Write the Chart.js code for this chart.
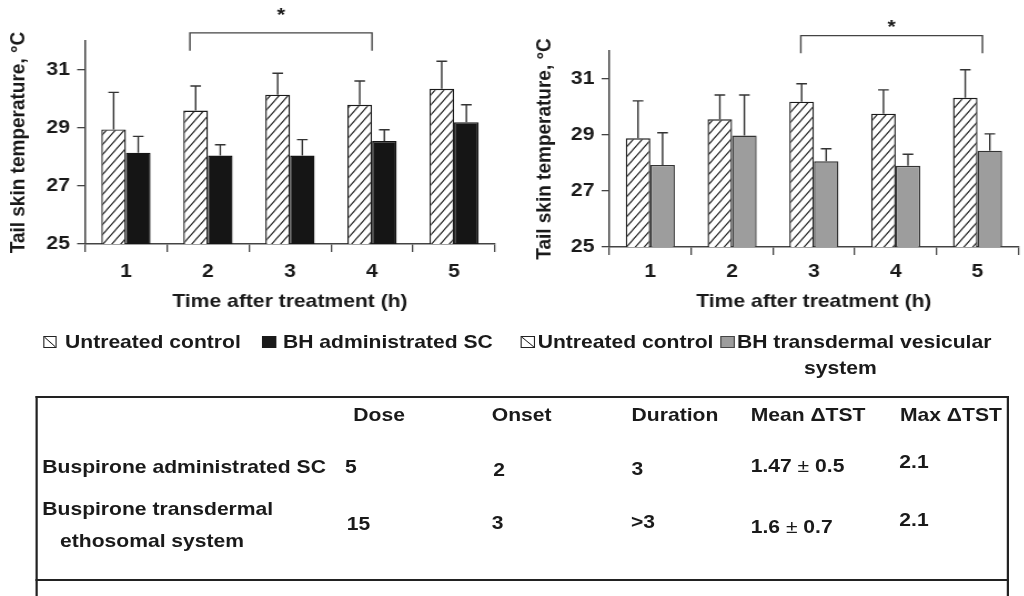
<!DOCTYPE html>
<html>
<head>
<meta charset="utf-8">
<script src="https://cdn.jsdelivr.net/npm/chart.js@4.4.1/dist/chart.umd.min.js"></script>
<style>
  html, body { margin: 0; padding: 0; background: #fff; overflow: hidden; }
  /* the whole figure is laid out narrow and widened by 1.11 */
  #page {
    position: relative; width: 923px; height: 596px; overflow: hidden;
    transform: scaleX(1.11); transform-origin: 0 0;
    font-family: Arial, "Liberation Sans", Helvetica, sans-serif;
    font-weight: bold; font-size: 19px; color: #1a1a1a;
  }
  canvas { position: absolute; top: 0; }
  #chartSC { left: 0; }
  #chartTD { left: 450px; }
  .txt { position: absolute; line-height: 22px; white-space: nowrap; }
  .pm { font-weight: normal; }
  .sw { position: absolute; width: 12.6px; height: 12.6px; box-sizing: border-box; }
  .sw.hatch {
    border: 1.4px solid #222;
    background: linear-gradient(to top right, #fff calc(50% - 0.8px), #222 50%, #fff calc(50% + 0.8px));
  }
  .sw.black { background: #1a1a1a; }
  .sw.grey { background: #9d9d9d; border: 1.4px solid #444; }
  #table {
    position: absolute; left: 31.5px; top: 396px; width: 877.5px; height: 260px;
    border: 2px solid #222; border-bottom: none; box-sizing: border-box;
  }
  #tableLine { position: absolute; left: 31.5px; top: 579px; width: 877.5px; border-top: 2px solid #222; }
</style>
</head>
<body>
<div id="page">
  <canvas id="chartSC" width="450" height="320"></canvas>
  <canvas id="chartTD" width="472" height="320"></canvas>

  <!-- legends -->
  <div class="sw hatch" style="left:38.7px; top:335.7px"></div>
  <div class="txt" style="left:58.6px; top:331px">Untreated control</div>
  <div class="sw black" style="left:236px; top:335.7px"></div>
  <div class="txt" style="left:255px; top:331px">BH administrated SC</div>

  <div class="sw hatch" style="left:469.4px; top:335.7px"></div>
  <div class="txt" style="left:484.4px; top:331px">Untreated control</div>
  <div class="sw grey" style="left:649.3px; top:335.7px"></div>
  <div class="txt" style="left:664px; top:331px">BH transdermal vesicular</div>
  <div class="txt" style="left:724.3px; top:356.5px">system</div>

  <!-- summary table -->
  <div id="table"></div>
  <div id="tableLine"></div>
  <div class="txt" style="left:318.3px; top:404px">Dose</div>
  <div class="txt" style="left:443px; top:404px">Onset</div>
  <div class="txt" style="left:569px; top:404px">Duration</div>
  <div class="txt" style="left:676.3px; top:404px">Mean ΔTST</div>
  <div class="txt" style="left:810.8px; top:404px">Max ΔTST</div>

  <div class="txt" style="left:38.1px; top:456px">Buspirone administrated SC</div>
  <div class="txt" style="left:310.8px; top:456px">5</div>
  <div class="txt" style="left:444.4px; top:458.7px">2</div>
  <div class="txt" style="left:569px; top:458px">3</div>
  <div class="txt" style="left:676.3px; top:455px">1.47 <span class="pm">±</span> 0.5</div>
  <div class="txt" style="left:810.2px; top:451px">2.1</div>

  <div class="txt" style="left:38.1px; top:498px">Buspirone transdermal</div>
  <div class="txt" style="left:54.1px; top:529.5px">ethosomal system</div>
  <div class="txt" style="left:312.3px; top:513px">15</div>
  <div class="txt" style="left:443px; top:511.5px">3</div>
  <div class="txt" style="left:568.5px; top:511px">&gt;3</div>
  <div class="txt" style="left:676.3px; top:516px">1.6 <span class="pm">±</span> 0.7</div>
  <div class="txt" style="left:810.2px; top:509px">2.1</div>
</div>

<script>
const hours = ['1', '2', '3', '4', '5'];
const yTicks = [25, 27, 29, 31];

// left panel: untreated control vs BH given SC (mean, SD)
const controlSC = [28.95, 29.6, 30.15, 29.8, 30.35];
const controlSCErr = [1.28, 0.85, 0.74, 0.82, 0.95];
const bhSC = [28.15, 28.05, 28.05, 28.55, 29.2];
const bhSCErr = [0.56, 0.37, 0.55, 0.39, 0.6];

// right panel: untreated control vs BH transdermal vesicular system
const controlTD = [28.88, 29.56, 30.19, 29.76, 30.33];
const controlTDErr = [1.34, 0.87, 0.64, 0.85, 1.0];
const bhTD = [27.93, 28.98, 28.06, 27.9, 28.44];
const bhTDErr = [1.15, 1.45, 0.45, 0.41, 0.6];

const FONT = { family: "Arial, 'Liberation Sans', Helvetica, sans-serif", size: 19, weight: 'bold' };
const INK = '#1a1a1a';
const AXIS = '#444';

Chart.defaults.font = FONT;
Chart.defaults.color = INK;

function makeHatch(ctx) {
    const tile = document.createElement('canvas');
    tile.width = 8;
    tile.height = 10;
    const g = tile.getContext('2d');
    g.fillStyle = '#fff';
    g.fillRect(0, 0, 8, 10);
    g.strokeStyle = '#222';
    g.lineWidth = 1.1;
    g.beginPath();
    g.moveTo(-1, 11.25); g.lineTo(9, -1.25);
    g.moveTo(-1, 1.25); g.lineTo(1, -1.25);
    g.moveTo(7, 11.25); g.lineTo(9, 8.75);
    g.stroke();
    return ctx.createPattern(tile, 'repeat');
}

// upper error bar with a short cap
const errorBars = {
    id: 'errorBars',
    afterDatasetsDraw(chart) {
        const { ctx } = chart;
        const y = chart.scales.y;
        chart.data.datasets.forEach((ds, i) => {
            chart.getDatasetMeta(i).data.forEach((bar, j) => {
                const top = y.getPixelForValue(ds.data[j] + ds.errors[j]);
                ctx.save();
                ctx.strokeStyle = '#333';
                ctx.lineWidth = 1.4;
                ctx.beginPath();
                ctx.moveTo(bar.x, bar.y);
                ctx.lineTo(bar.x, top);
                ctx.moveTo(bar.x - 4.8, top);
                ctx.lineTo(bar.x + 4.8, top);
                ctx.stroke();
                ctx.restore();
            });
        });
    }
};

// significance bracket with a star above it
const bracket = {
    id: 'bracket',
    afterDraw(chart, args, opts) {
        const { ctx } = chart;
        const { x, y } = chart.scales;
        const x1 = x.getPixelForValue(opts.from);
        const x2 = x.getPixelForValue(opts.to);
        const yTop = y.getPixelForValue(opts.top);
        const yLeg = y.getPixelForValue(opts.leg);
        ctx.save();
        ctx.strokeStyle = AXIS;
        ctx.lineWidth = 1.4;
        ctx.beginPath();
        ctx.moveTo(x1, yLeg);
        ctx.lineTo(x1, yTop);
        ctx.lineTo(x2, yTop);
        ctx.lineTo(x2, yLeg);
        ctx.stroke();
        ctx.fillStyle = INK;
        ctx.font = `bold 19px ${FONT.family}`;
        ctx.textAlign = 'center';
        ctx.textBaseline = 'alphabetic';
        ctx.fillText(opts.label, (x1 + x2) / 2, y.getPixelForValue(opts.labelAt) + 11);
        ctx.restore();
    }
};

function drawPanel(canvasId, controlData, controlErr, treatedData, treatedErr, treatedColor, treatedBorder, lay) {
    const ctx = document.getElementById(canvasId).getContext('2d');
    return new Chart(ctx, {
        type: 'bar',
        data: {
            labels: hours,
            datasets: [{
                label: 'Untreated control',
                data: controlData,
                errors: controlErr,
                backgroundColor: makeHatch(ctx),
                borderColor: '#1a1a1a',
                borderWidth: 1.4
            }, {
                label: lay.treatedLabel,
                data: treatedData,
                errors: treatedErr,
                backgroundColor: treatedColor,
                borderColor: treatedBorder,
                borderWidth: 1.4
            }]
        },
        options: {
            responsive: false,
            animation: false,
            devicePixelRatio: 1,
            categoryPercentage: 0.6,
            barPercentage: 1.0,
            layout: { padding: lay.padding },
            plugins: {
                legend: { display: false },
                tooltip: { enabled: false },
                bracket: lay.bracket
            },
            scales: {
                x: {
                    grid: { display: true, drawOnChartArea: false, offset: true, tickLength: 8, color: AXIS, lineWidth: 1.3 },
                    border: { display: true, color: AXIS, width: 1.5 },
                    ticks: { padding: lay.xTickPad, maxRotation: 0 },
                    title: { display: true, text: 'Time after treatment (h)', padding: { top: 0, bottom: 6.6 } },
                    afterFit: (scale) => { scale.height = lay.xHeight; }
                },
                y: {
                    min: 25,
                    max: 32,
                    grid: { display: true, drawOnChartArea: false, tickLength: 7, color: AXIS, lineWidth: 1.3 },
                    border: { display: true, color: AXIS, width: 1.5 },
                    ticks: { padding: 6.5 },
                    afterBuildTicks: (scale) => { scale.ticks = yTicks.map(v => ({ value: v })); },
                    title: { display: true, text: 'Tail skin temperature, °C', padding: { top: 5, bottom: 0 } },
                    afterFit: (scale) => { scale.width = lay.yWidth; }
                }
            }
        },
        plugins: [errorBars, bracket]
    });
}

drawPanel('chartSC', controlSC, controlSCErr, bhSC, bhSCErr, '#151515', '#151515', {
    treatedLabel: 'BH administrated SC',
    padding: { left: 0, top: 41, right: 4, bottom: 0 },
    yWidth: 76.5,
    xHeight: 76,
    xTickPad: 8.6,
    bracket: { from: 0.78, to: 3.0, top: 32.28, leg: 31.66, label: '*', labelAt: 33.06 }
});

drawPanel('chartTD', controlTD, controlTDErr, bhTD, bhTDErr, '#9d9d9d', '#333', {
    treatedLabel: 'BH transdermal vesicular system',
    padding: { left: 24, top: 51, right: 4.5, bottom: 0 },
    yWidth: 75,
    xHeight: 73,
    xTickPad: 5.6,
    bracket: { from: 1.84, to: 4.06, top: 32.55, leg: 31.92, label: '*', labelAt: 33.02 }
});
</script>
</body>
</html>
